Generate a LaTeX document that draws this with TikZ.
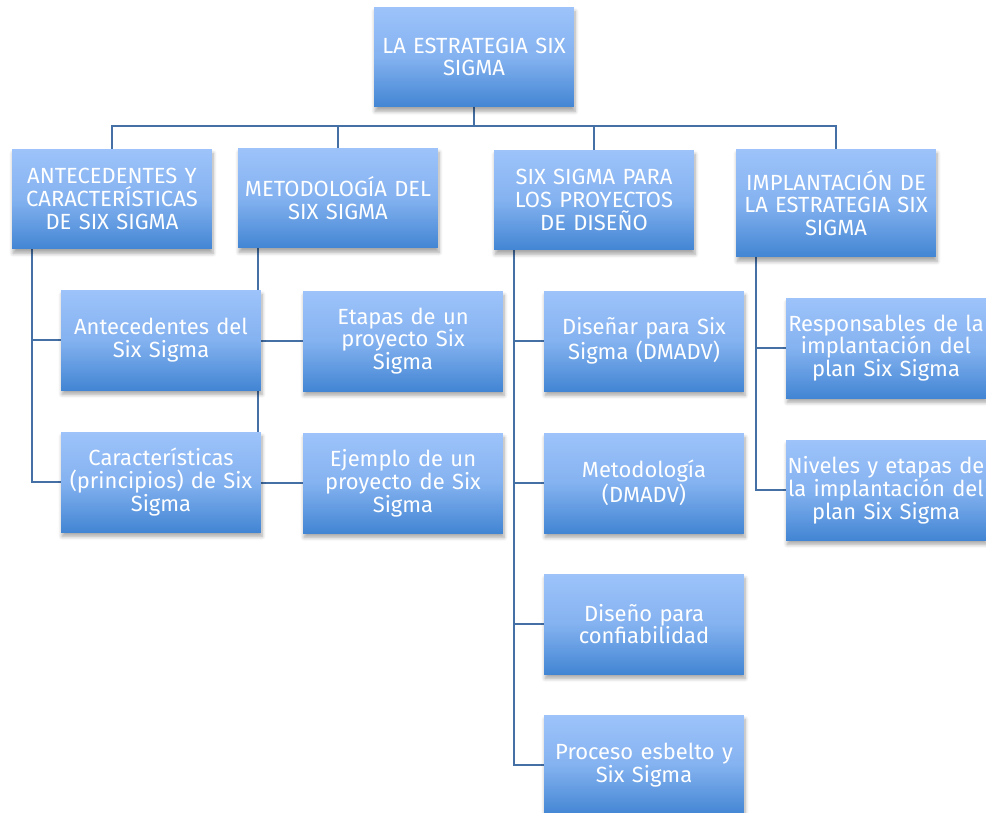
\documentclass[tikz,border=0pt]{standalone}
\usepackage{fontspec}
\setmainfont{Fira Sans}
\usetikzlibrary{backgrounds, shadows.blur}
\definecolor{boxtop}{RGB}{157,195,250}
\definecolor{boxmid}{RGB}{132,178,240}
\definecolor{boxbot}{RGB}{66,133,211}
\definecolor{linkblue}{RGB}{68,112,166}

\begin{document}
\begin{tikzpicture}[x=0.02cm, y=-0.02cm,
    box/.style={rectangle, minimum width=4cm, minimum height=2cm, inner sep=0pt,
      text width=4cm, align=center, text=white,
      font=\fontsize{12.5}{13}\selectfont,
      top color=boxtop, bottom color=boxbot, middle color=boxmid,
      blur shadow={shadow xshift=0.6pt, shadow yshift=-2.5pt, shadow blur steps=6, shadow opacity=35}},
    link/.style={draw=linkblue, line width=1.1pt}]
  \useasboundingbox (0,0) rectangle (986,812);

  \node[box] (top) at (474,57) {LA ESTRATEGIA SIX\\SIGMA};

  \node[box] (ant) at (112,199) {ANTECEDENTES Y\\CARACTERÍSTICAS\\DE SIX SIGMA};
  \node[box] (met) at (338,198) {METODOLOGÍA DEL\\SIX SIGMA};
  \node[box] (dis) at (594,200) {SIX SIGMA PARA\\LOS PROYECTOS\\DE DISEÑO};
  \node[box, minimum height=2.16cm] (imp) at (836,203) {IMPLANTACIÓN DE\\LA ESTRATEGIA SIX\\SIGMA};

  \node[box] (a1) at (161,340) {Antecedentes del\\Six Sigma};
  \node[box] (a2) at (161,482) {Características\\(principios) de Six\\Sigma};
  \node[box] (m1) at (403,341) {Etapas de un\\proyecto Six\\Sigma};
  \node[box] (m2) at (403,483) {Ejemplo de un\\proyecto de Six\\Sigma};

  \node[box] (d1) at (644,341) {Diseñar para Six\\Sigma (DMADV)};
  \node[box] (d2) at (644,483) {Metodología\\(DMADV)};
  \node[box] (d3) at (644,624) {Diseño para\\confiabilidad};
  \node[box] (d4) at (644,765) {Proceso esbelto y\\Six Sigma};

  \node[box] (i1) at (886,348) {Responsables de la\\implantación del\\plan Six Sigma};
  \node[box] (i2) at (886,490) {Niveles y etapas de\\la implantación del\\plan Six Sigma};

  \coordinate (bus) at (474,126);

  \begin{scope}[on background layer]
    \foreach \n in {ant, met, dis, imp}
    \draw[link] (top.south) |- (bus -| \n.north) -- (\n.north);

    \foreach \p/\c in {ant/a1, ant/a2, met/m1, met/m2, dis/d1, dis/d2, dis/d3, dis/d4, imp/i1, imp/i2}
    \draw[link] ([xshift=0.4cm]\p.south west) |- (\c.west);
  \end{scope}
\end{tikzpicture}
\end{document}
